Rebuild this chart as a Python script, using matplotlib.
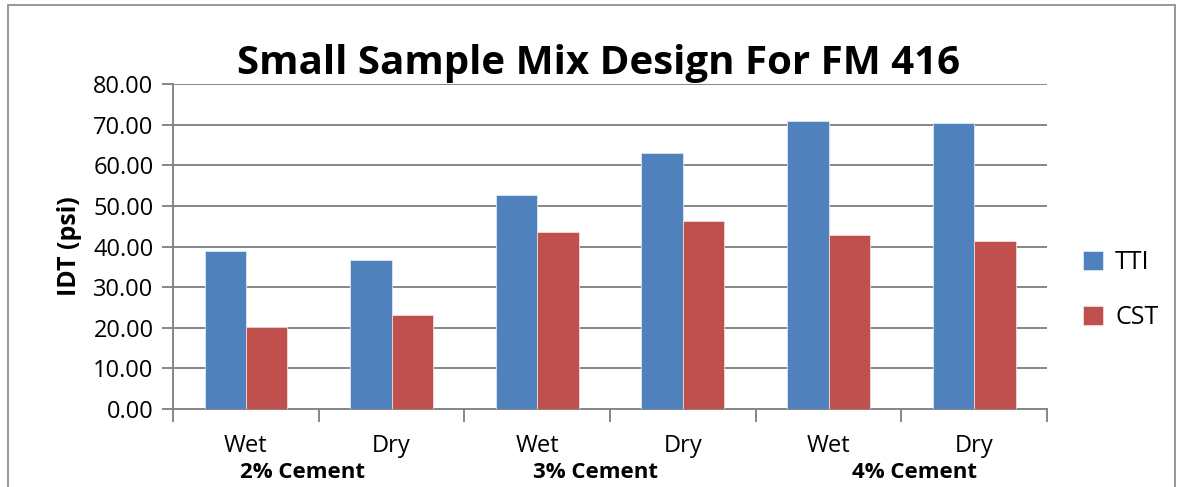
import numpy as np
import matplotlib.pyplot as plt
from matplotlib.patches import Rectangle
from matplotlib.transforms import blended_transform_factory

# 数据
categories = ["Wet", "Dry", "Wet", "Dry", "Wet", "Dry"]
groups = ["2% Cement", "3% Cement", "4% Cement"]
tti = [39.0, 36.7, 52.7, 63.1, 71.0, 70.4]
cst = [20.2, 23.1, 43.6, 46.2, 42.8, 41.4]
series_names = ["TTI", "CST"]
yticks = [0, 10, 20, 30, 40, 50, 60, 70, 80]

blue = "#4F81BD"
red = "#C0504D"
grey = "#868686"

plt.rcParams['font.family'] = ['Open Sans', 'DejaVu Sans']

fig = plt.figure(figsize=(11.82, 4.87), dpi=100)
ax = fig.add_axes([0.1464, 0.160, 0.7394, 0.6675])

x = np.arange(len(categories))
w = 0.284
ax.bar(x - w / 2, tti, w, color=blue, edgecolor="#DCE6F2", linewidth=0.6, label=series_names[0], zorder=3)
ax.bar(x + w / 2, cst, w, color=red, edgecolor="#F2DCDB", linewidth=0.6, label=series_names[1], zorder=3)

ax.set_xlim(-0.5, len(categories) - 0.5)
ax.set_ylim(0, 80)
ax.set_yticks(yticks)
ax.set_yticklabels([f"{v:.2f}" for v in yticks], fontsize=17)
ax.yaxis.grid(True, color=grey, linewidth=1.4, zorder=0)
ax.set_axisbelow(True)

# x 轴：类别刻度在边界处
ax.set_xticks(np.arange(-0.5, len(categories)), minor=False)
ax.set_xticklabels([])
ax.set_xticks(x, minor=True)
ax.set_xticklabels(categories, minor=True, fontsize=17)
ax.tick_params(axis="x", which="major", length=9, width=1.4, color=grey)
ax.tick_params(axis="x", which="minor", length=0, pad=18)
ax.tick_params(axis="y", length=8, width=1.4, color=grey, pad=6)

for s in ["top", "right"]:
    ax.spines[s].set_visible(False)
for s in ["left", "bottom"]:
    ax.spines[s].set_color(grey)
    ax.spines[s].set_linewidth(1.4)

# 分组标签
trans = blended_transform_factory(ax.transData, ax.transAxes)
group_offsets = [-0.11, -0.1, 0.09]
for i, g in enumerate(groups):
    ax.text(2 * i + 0.5 + group_offsets[i], -0.195, g, transform=trans, ha="center", va="center",
            fontsize=16, fontweight="bold")

ax.set_ylabel("IDT (psi)", fontsize=18, fontweight="bold", labelpad=8)
fig.text(0.506, 0.87, "Small Sample Mix Design For FM 416", ha="center", va="center",
         fontsize=29, fontweight="bold")

ax.legend(loc="center left", bbox_to_anchor=(1.015, 0.365), frameon=False, fontsize=18,
          handlelength=0.8, handleheight=0.8, labelspacing=1.2, handletextpad=0.5)

# 外框
fig.patches.append(Rectangle((0.007, -0.01), 0.987, 1.0, transform=fig.transFigure,
                             fill=False, edgecolor=grey, linewidth=1.2))

plt.savefig("out.png", dpi=100)
plt.close()
